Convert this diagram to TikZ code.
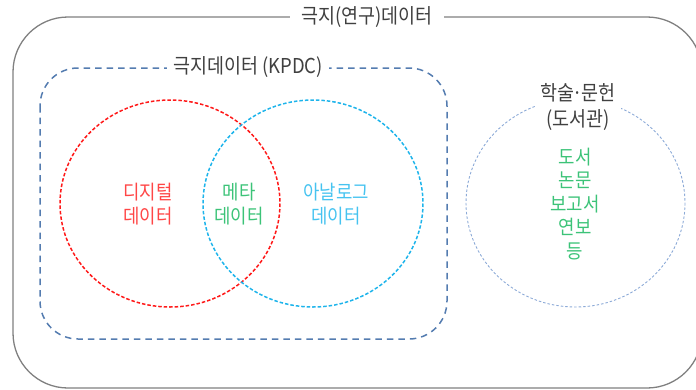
\documentclass[tikz,border=0pt]{standalone}
\usepackage{fontspec}
\setmainfont{Noto Sans CJK KR}[FakeStretch=0.9]
\begin{document}
\begin{tikzpicture}[x=1pt,y=-1pt,
  titletext/.style={fill=white,text=titlegray,font=\fontsize{20.5}{26}\selectfont,inner ysep=2pt,align=center},
  innertext/.style={font=\fontsize{19.8}{23.5}\selectfont,align=center,inner sep=0pt},
  outerbox/.style={draw=outergray,line width=1.3pt,rounded corners=55pt},
  kpdcbox/.style={draw=kpdcblue,line width=1.5pt,dash pattern=on 6.5pt off 5pt,rounded corners=38pt},
  vennline/.style={line width=1.5pt,dash pattern=on 3.5pt off 2pt},
  libline/.style={draw=libblue,line width=0.9pt,dash pattern=on 2.5pt off 2pt}]
\definecolor{outergray}{RGB}{128,128,128}
\definecolor{titlegray}{RGB}{64,64,64}
\definecolor{kpdcblue}{RGB}{84,124,176}
\definecolor{vred}{RGB}{255,25,25}
\definecolor{vcyan}{RGB}{30,180,235}
\definecolor{libblue}{RGB}{140,170,215}
\definecolor{tred}{RGB}{255,70,70}
\definecolor{tgreen}{RGB}{60,195,120}
\definecolor{tcyan}{RGB}{70,195,240}
\useasboundingbox (0,0) rectangle (696,389);
\begin{scope}
\clip (0,0) rectangle (696,389);
% outer box
\draw[outerbox] (13,17) rectangle (702,388);
\node[titletext,inner xsep=11pt] (outertitle) at (367,17) {극지(연구)데이터};
% KPDC box
\draw[kpdcbox] (40,68) rectangle (447,339);
\node[titletext,inner xsep=6pt] (kpdctitle) at (248,67) {극지데이터 (KPDC)};
% venn
\draw[vennline,draw=vred] (170,203.5) ellipse [x radius=110,y radius=103.5];
\draw[vennline,draw=vcyan] (313,203.5) ellipse [x radius=110,y radius=103.5];
\node[innertext,text=tred] (digital) at (148,204) {디지털\\데이터};
\node[innertext,text=tgreen] (meta) at (239,204) {메타\\데이터};
\node[innertext,text=tcyan] (analog) at (336,204) {아날로그\\데이터};
% library circle
\draw[libline] (575.5,203) ellipse [x radius=109.5,y radius=104];
\node[titletext,inner xsep=5pt] (libtitle) at (578,107) {학술\kern-1.5pt·\kern-1.5pt문헌\\(도서관)};
\node[innertext,text=tgreen] (libitems) at (575,204) {도서\\논문\\보고서\\연보\\등};
\end{scope}
\end{tikzpicture}
\end{document}
